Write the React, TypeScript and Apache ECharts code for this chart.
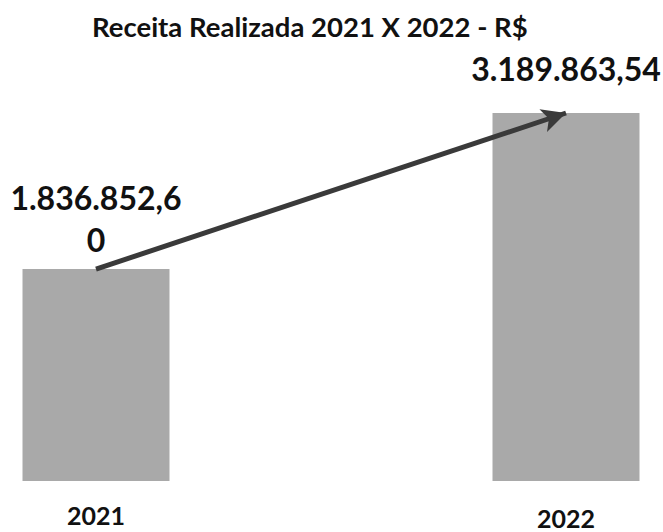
import React, { useEffect, useRef } from "react";
import * as echarts from "echarts";

const titleText = "Receita Realizada 2021 X 2022 - R$";
const categories = ["2021", "2022"];
const values = [1836852.6, 3189863.54];

const fmt = (v: number) =>
  v.toLocaleString("pt-BR", { minimumFractionDigits: 2, maximumFractionDigits: 2 });

export default function App() {
  const ref = useRef<HTMLDivElement>(null);
  useEffect(() => {
    if (!ref.current) return;
    const chart = echarts.init(ref.current, undefined, { renderer: "svg" });
    const font = "Lato, 'Open Sans', sans-serif";
    chart.setOption({
      animation: false,
      backgroundColor: "#ffffff",
      title: {
        text: titleText,
        left: 87,
        top: 7,
        textStyle: { fontFamily: font, fontSize: 27.5, fontWeight: "bold", color: "#111" },
      },
      grid: { left: 96, right: 97, top: 113, bottom: 51, containLabel: false },
      xAxis: {
        type: "category",
        boundaryGap: false,
        data: categories.map((c, i) => ({
          value: c,
          textStyle: { padding: [i === 1 ? 3 : 0, 0, 0, 0] },
        })),
        axisLine: { show: false },
        axisTick: { show: false },
        axisLabel: {
          margin: 23,
          fontFamily: font,
          fontSize: 25,
          lineHeight: 22,
          fontWeight: "bold",
          color: "#111",
        },
      },
      yAxis: {
        type: "value",
        min: 0,
        max: "dataMax",
        show: false,
        splitLine: { show: false },
      },
      series: [
        {
          type: "bar",
          clip: false,
          barWidth: 147,
          itemStyle: { color: "#a9a9a9" },
          data: values.map((v, i) => ({
            value: v,
            label: {
              distance: i === 0 ? 9 : 24,
              width: i === 0 ? 180 : 230,
            },
          })),
          label: {
            show: true,
            position: "top",
            formatter: (p: any) => fmt(p.value),
            fontFamily: font,
            fontSize: 32,
            fontWeight: "bold",
            color: "#111",
            overflow: "breakAll",
            lineHeight: 42,
          },
          markLine: {
            silent: true,
            symbol: ["none", "arrow"],
            symbolSize: [18, 24],
            label: { show: false },
            lineStyle: { color: "#3a3a3a", width: 5, type: "solid" },
            data: [
              [
                { coord: [categories[0], values[0]] },
                { coord: [categories[1], values[1]] },
              ],
            ],
          },
        },
      ],
    });
    return () => chart.dispose();
  }, []);
  return (
    <div
      ref={ref}
      style={{ position: "fixed", left: 0, top: 0, width: 663, height: 532 }}
    />
  );
}
